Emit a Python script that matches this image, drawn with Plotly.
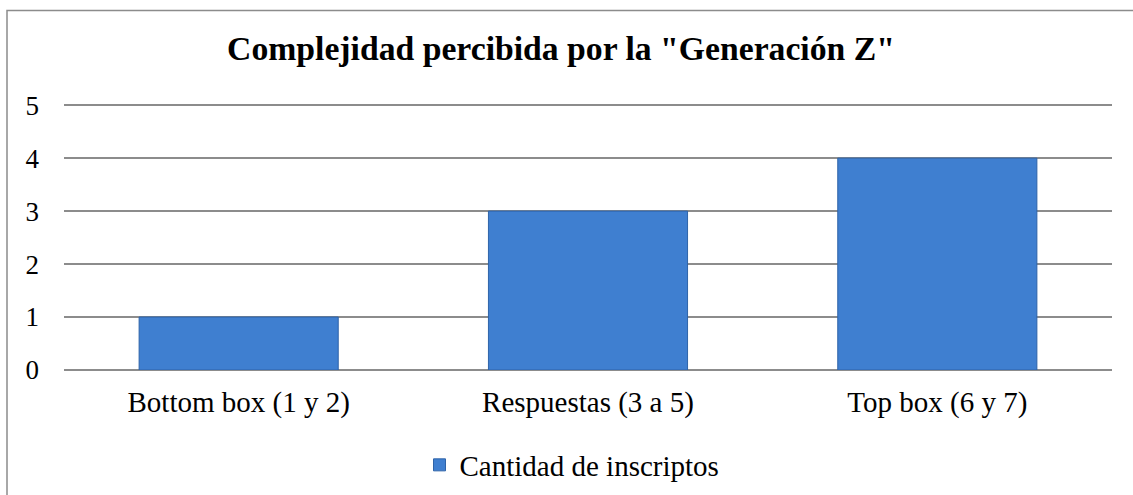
import plotly.graph_objects as go

categories = ["Bottom box (1 y 2)", "Respuestas (3 a 5)", "Top box (6 y 7)"]
values = [1, 3, 4]
series_name = "Cantidad de inscriptos"
title_text = 'Complejidad percibida por la "Generación Z"'
y_ticks = [0, 1, 2, 3, 4, 5]

W, H = 1133, 495
YMAX = 5.06
L, R, B = 64, 21, 125
T = 370 - round(53 * YMAX)
PW, PH = W - L - R, H - T - B

fig = go.Figure()
fig.add_trace(go.Bar(
    x=categories, y=values, name=series_name,
    width=0.57,
    marker=dict(color="#3F7FD0", line=dict(color="#2E63A8", width=1)),
    showlegend=True,
))

font_family = "Liberation Serif, Times New Roman, serif"
fig.update_layout(
    width=W, height=H,
    margin=dict(l=L, r=R, t=T, b=B, autoexpand=False),
    paper_bgcolor="white", plot_bgcolor="white",
    font=dict(family=font_family, size=27, color="black"),
    title=dict(text="<b>" + title_text + "</b>", x=561 / W,
               xanchor="center", y=1 - 48 / H, yanchor="middle",
               font=dict(size=33.7, family=font_family, color="black")),
    showlegend=True,
    legend=dict(orientation="h", xref="container", yref="container",
                x=572 / W, xanchor="center",
                y=1 - 465 / H, yanchor="middle",
                font=dict(size=29, family=font_family), itemwidth=30),
    xaxis=dict(showgrid=False, showline=False, zeroline=False, ticks="",
               ticklabelstandoff=12, tickfont=dict(size=29), automargin=False),
    yaxis=dict(range=[0, YMAX], tickvals=y_ticks, showgrid=True, gridcolor="#8C8C8C",
               gridwidth=1.5, zeroline=True, zerolinecolor="#8C8C8C", zerolinewidth=1.5,
               showline=False, ticks="", ticklabelstandoff=24, tickfont=dict(size=27),
               automargin=False),
    shapes=[dict(type="rect", xref="paper", yref="paper",
                 x0=(7 - L) / PW, x1=(W + 20 - L) / PW,
                 y0=(H - B - (H + 20)) / PH, y1=(H - B - 10.5) / PH,
                 line=dict(color="#8C8C8C", width=1.5), fillcolor="rgba(0,0,0,0)", layer="below")],
)

fig.write_html("out.html", config={"displayModeBar": False})
with open("out.html", "r", encoding="utf-8") as f:
    html = f.read()
html = html.replace("<head>", "<head><style>html,body{margin:0;padding:0;overflow:hidden}</style>", 1)
with open("out.html", "w", encoding="utf-8") as f:
    f.write(html)
